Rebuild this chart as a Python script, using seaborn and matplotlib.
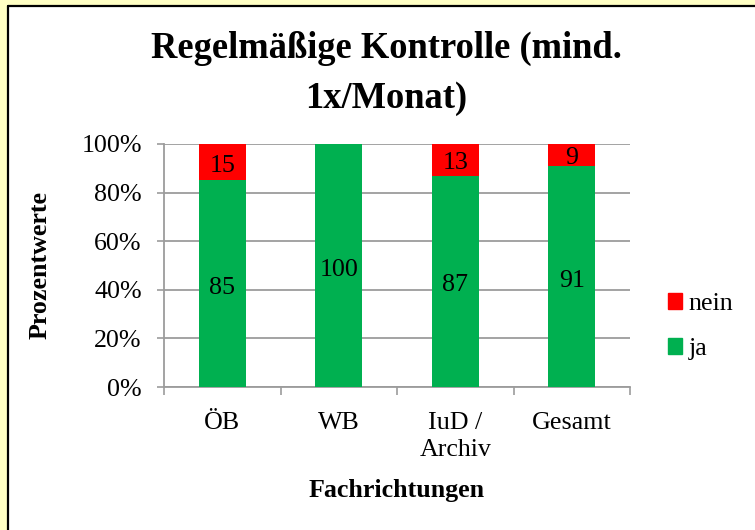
import matplotlib
matplotlib.use("Agg")
import matplotlib.pyplot as plt
import matplotlib.patches as mpatches
from matplotlib.lines import Line2D
from matplotlib.ticker import FixedLocator
import seaborn as sns
import pandas as pd

categories = ["ÖB", "WB", "IuD /\nArchiv", "Gesamt"]
ja = [85, 100, 87, 91]
nein = [15, 0, 13, 9]
y_ticks = [0, 20, 40, 60, 80, 100]
y_tick_labels = ["0%", "20%", "40%", "60%", "80%", "100%"]
title = "Regelmäßige Kontrolle (mind.\n1x/Monat)"
x_label = "Fachrichtungen"
y_label = "Prozentwerte"

GREEN = "#00B050"
RED = "#FF0000"
GRID = "#9C9C9C"
YELLOW = "#FFFFC4"

sns.set_theme(style="white")
plt.rcParams["font.family"] = ["Liberation Serif", "DejaVu Serif"]
plt.rcParams["text.color"] = "black"
plt.rcParams["xtick.labelcolor"] = "black"
plt.rcParams["ytick.labelcolor"] = "black"

df = pd.DataFrame({"cat": categories, "ja": ja, "nein": nein})
df["total"] = df["ja"] + df["nein"]

fig = plt.figure(figsize=(7.55, 5.30), dpi=100, facecolor=YELLOW)
# white panel with black border on left and top
x0, y0 = 7.5 / 755, 1 - 5.5 / 530
panel = mpatches.Rectangle((x0, -0.1), 1.2, y0 + 0.1, transform=fig.transFigure,
                           facecolor="white", edgecolor="none", zorder=-10)
fig.patches.append(panel)
fig.lines.append(Line2D([x0, x0], [-0.1, y0], transform=fig.transFigure,
                        color="black", linewidth=1.6, zorder=-9))
fig.lines.append(Line2D([x0, 1.1], [y0, y0], transform=fig.transFigure,
                        color="black", linewidth=1.6, zorder=-9))

ax = fig.add_axes([164 / 755, 1 - 387 / 530, 466 / 755, 243 / 530])
ax.set_facecolor("none")

sns.barplot(data=df, x="cat", y="total", color=RED, saturation=1,
            width=0.4, ax=ax, zorder=3, linewidth=0, edgecolor="none")
sns.barplot(data=df, x="cat", y="ja", color=GREEN, saturation=1,
            width=0.4, ax=ax, zorder=3, linewidth=0, edgecolor="none")

fs = 18.7
for i, (j, n) in enumerate(zip(df["ja"], df["nein"])):
    ax.annotate(f"{j}", (i, j / 2), xytext=(0, -3), textcoords="offset points",
                ha="center", va="center", fontsize=fs, color="black", zorder=5)
    if n > 0:
        ax.annotate(f"{n}", (i, j + n / 2), xytext=(0, -2.5), textcoords="offset points",
                    ha="center", va="center", fontsize=fs, color="black", zorder=5)

ax.set_xlim(-0.5, len(categories) - 0.5)
ax.set_ylim(0, 100)
ax.set_yticks(y_ticks)
ax.set_yticklabels(y_tick_labels, fontsize=fs)
ax.set_xticks(range(len(categories)))
ax.set_xticklabels(categories, fontsize=fs, linespacing=1.3)
ax.xaxis.set_minor_locator(FixedLocator([k - 0.5 for k in range(len(categories) + 1)]))
ax.tick_params(axis="x", which="major", length=0, pad=18)
ax.tick_params(axis="x", which="minor", length=6, width=1.2, color=GRID, direction="out", bottom=True)
ax.tick_params(axis="y", length=5, width=1.2, color=GRID, pad=11, left=True)
ax.set_xlabel("")
ax.set_ylabel("")

ax.grid(axis="y", color=GRID, linewidth=1.3, zorder=0)
ax.grid(axis="x", visible=False)
ax.set_axisbelow(True)
for s in ["top", "right"]:
    ax.spines[s].set_visible(False)
for s in ["left", "bottom"]:
    ax.spines[s].set_color(GRID)
    ax.spines[s].set_linewidth(1.3)

fig.text(386 / 755, 1 - 73 / 530, title, ha="center", va="center",
         fontsize=26.3, fontweight="bold", linespacing=1.55, color="black")
fig.text(397 / 755, 1 - 490 / 530, x_label, ha="center", va="center",
         fontsize=fs, fontweight="bold", color="black")
fig.text(40 / 755, 1 - 265 / 530, y_label, ha="center", va="center",
         fontsize=fs, fontweight="bold", rotation=90, color="black")

handles = [mpatches.Patch(color=RED, label="nein"),
           mpatches.Patch(color=GREEN, label="ja")]
fig.legend(handles=handles, loc="upper left",
           bbox_to_anchor=(668 / 755, 1 - 293 / 530), frameon=False,
           fontsize=fs, handlelength=0.55, handleheight=0.55,
           handletextpad=0.25, labelspacing=0.9, borderpad=0, borderaxespad=0)

fig.savefig("out.png", dpi=100, facecolor=YELLOW)
